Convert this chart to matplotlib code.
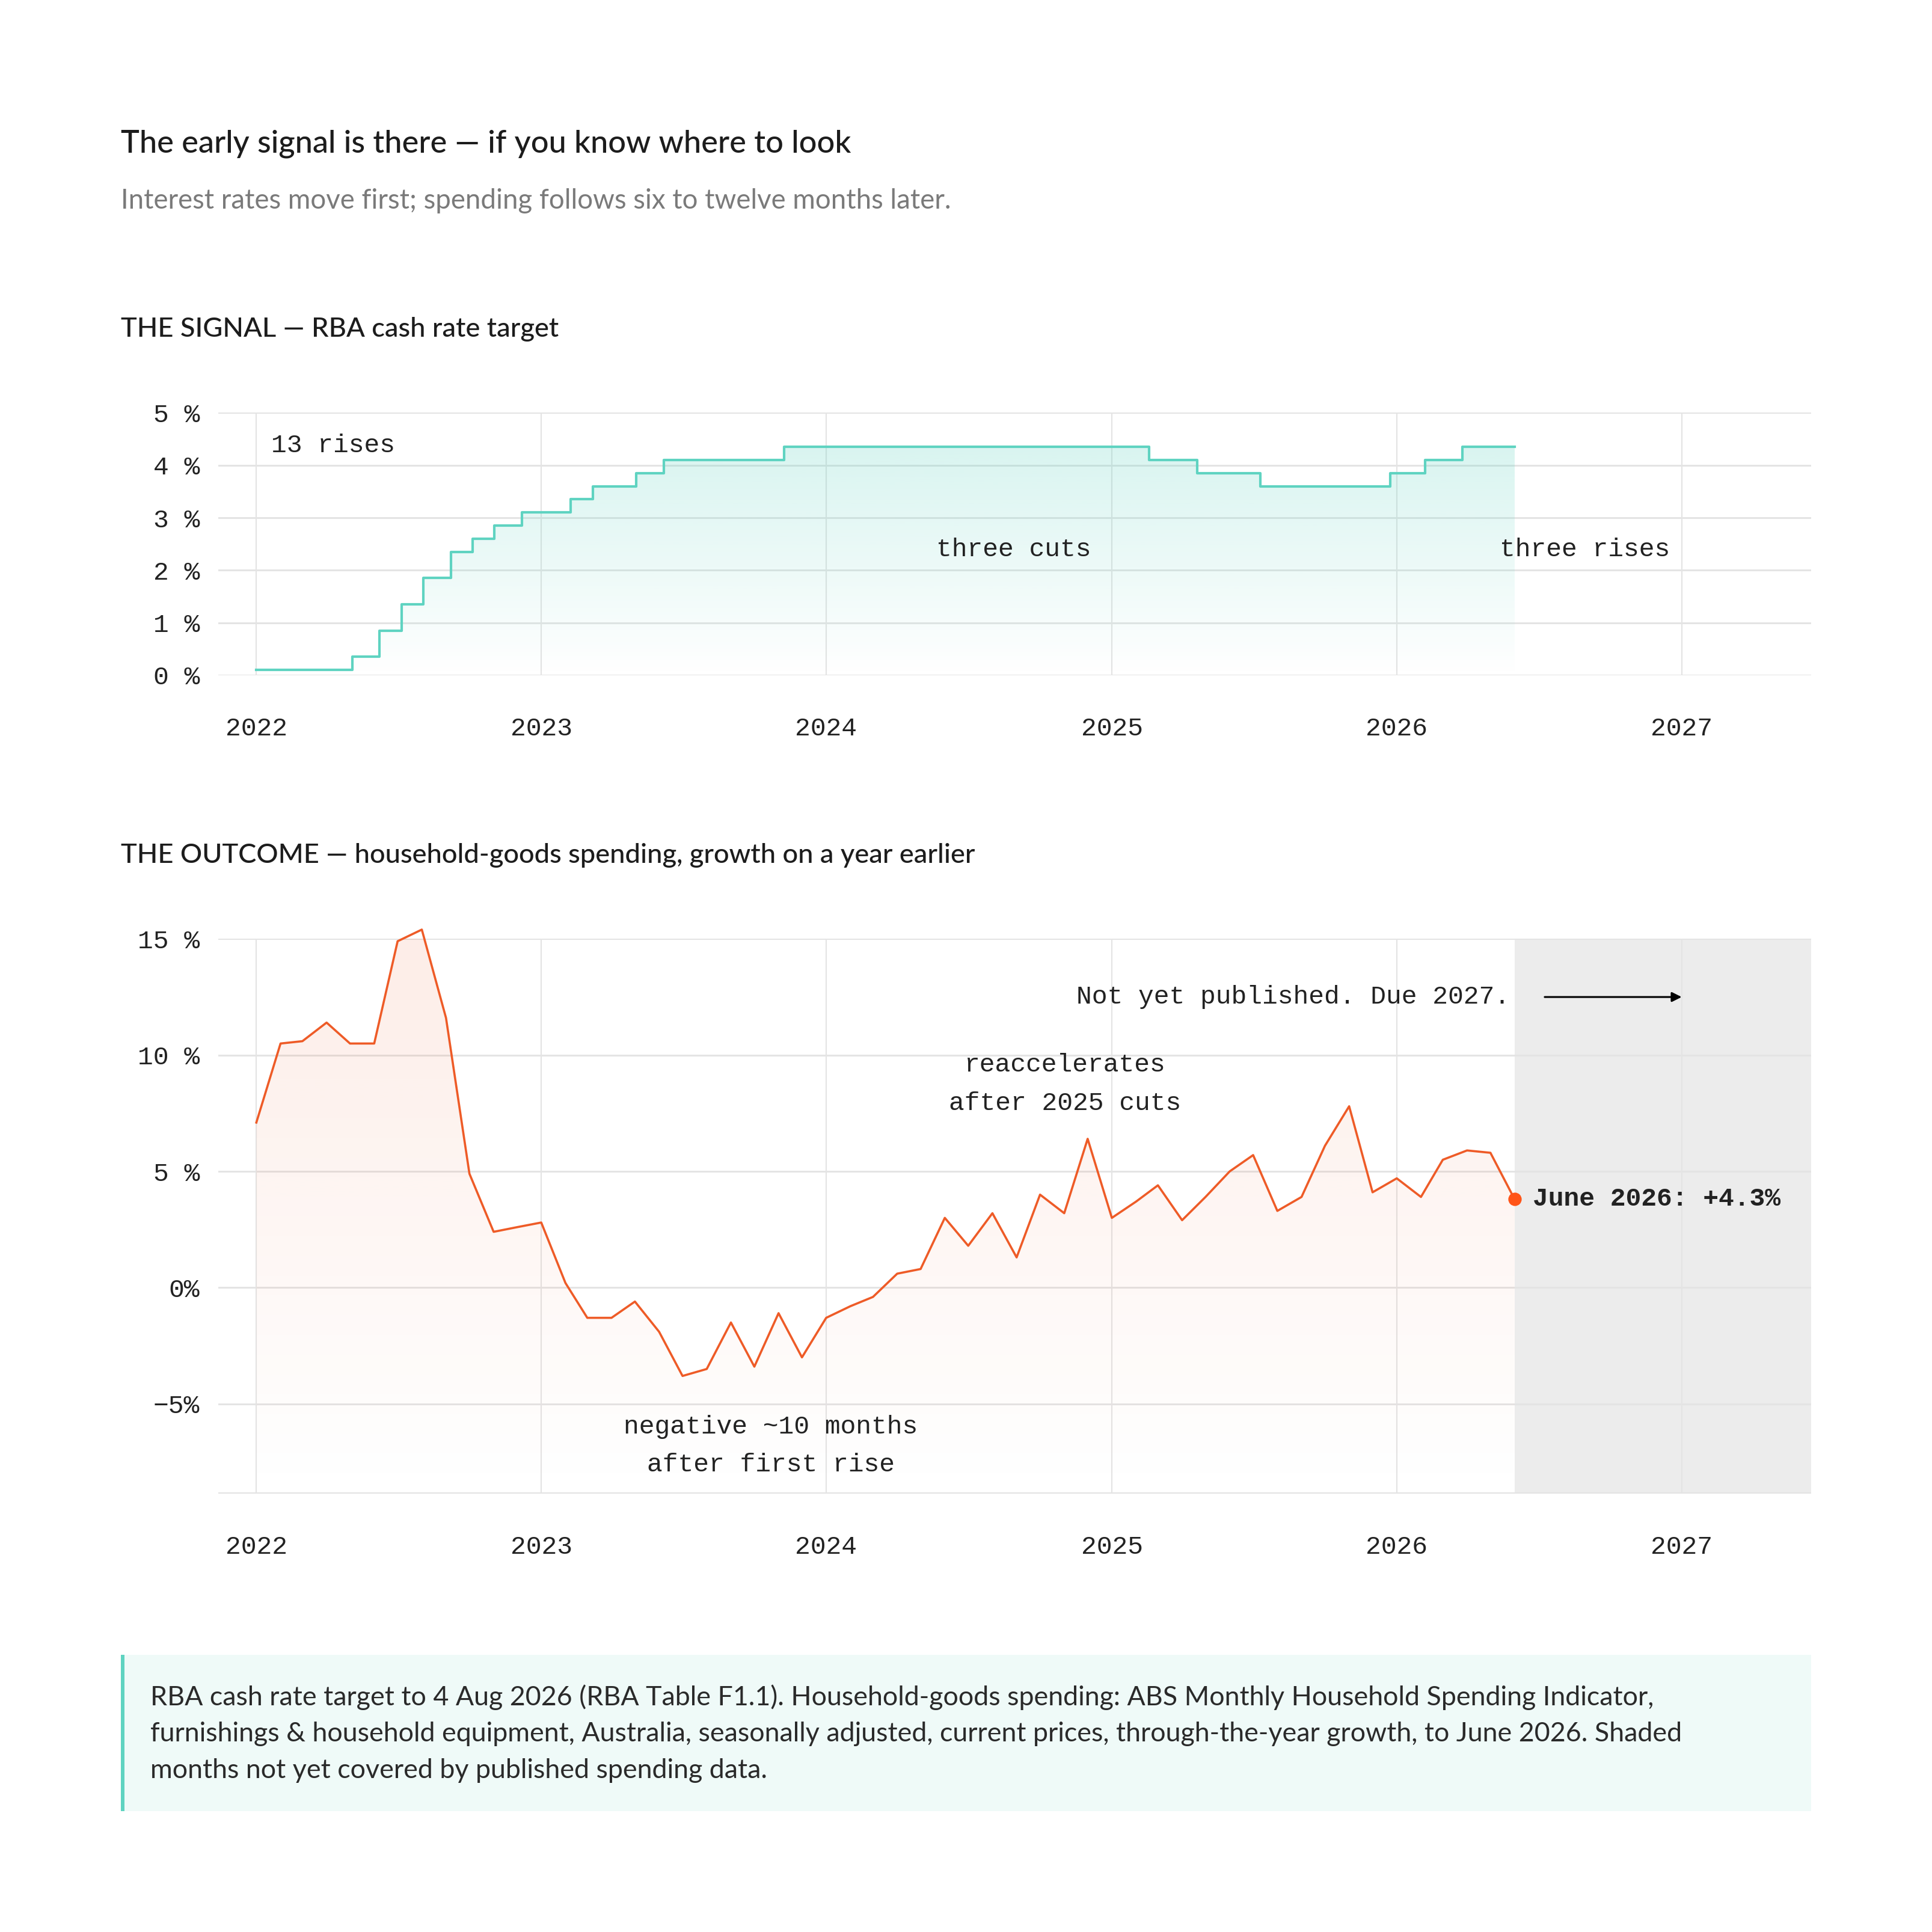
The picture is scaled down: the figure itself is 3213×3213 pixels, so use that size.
import numpy as np
import pandas as pd
import matplotlib
matplotlib.use("Agg")
import matplotlib.pyplot as plt
import matplotlib.dates as mdates
from matplotlib.colors import to_rgb
from matplotlib.patches import Rectangle

# RBA cash rate target (step changes, last entry = end of series)
rate_dates = pd.to_datetime([
    "2022-01-01", "2022-05-04", "2022-06-08", "2022-07-06", "2022-08-03", "2022-09-07",
    "2022-10-05", "2022-11-02", "2022-12-07", "2023-02-08", "2023-03-08", "2023-05-03",
    "2023-06-07", "2023-11-08", "2025-02-18", "2025-04-20", "2025-07-10",
    "2025-12-24", "2026-02-06", "2026-03-26", "2026-06-01"])
rate_values = [0.10, 0.35, 0.85, 1.35, 1.85, 2.35, 2.60, 2.85, 3.10, 3.35, 3.60, 3.85,
               4.10, 4.35, 4.10, 3.85, 3.60, 3.85, 4.10, 4.35, 4.35]

# household-goods spending, growth on a year earlier (%)
spend_months = pd.date_range("2022-01-01", "2026-06-01", freq="MS")
spend_growth = [
    7.1, 10.5, 10.6, 11.4, 10.5, 10.5, 14.9, 15.4, 11.6, 4.9, 2.4, 2.6,
    2.8, 0.2, -1.3, -1.3, -0.6, -1.9, -3.8, -3.5, -1.5, -3.4, -1.1, -3.0,
    -1.3, -0.8, -0.4, 0.6, 0.8, 3.0, 1.8, 3.2, 1.3, 4.0, 3.2, 6.4,
    3.0, 3.7, 4.4, 2.9, 3.9, 5.0, 5.7, 3.3, 3.9, 6.1, 7.8, 4.1,
    4.7, 3.9, 5.5, 5.9, 5.8, 3.8]

years = [2022, 2023, 2024, 2025, 2026, 2027]
top_ticks = [0, 1, 2, 3, 4, 5]
top_labels = ["0 %", "1 %", "2 %", "3 %", "4 %", "5 %"]
bot_ticks = [-5, 0, 5, 10, 15]
bot_labels = ["\u22125%", "0%", "5 %", "10 %", "15 %"]

SANS = ["Lato", "DejaVu Sans"]
MONO = ["Liberation Mono", "DejaVu Sans Mono"]
TEAL = "#5fd3c1"
ORANGE = "#ee5b27"
GRID = "#e4e4e4"
INK = "#222222"

plt.rcParams["font.family"] = SANS

W = 1568.0  # layout worked out on a 1568px canvas
def fx(x):
    return x / W
def fy(y):
    return 1 - y / W

fig = plt.figure(figsize=(16.065, 16.065), dpi=200, facecolor="white")

xmin = pd.Timestamp("2021-11-13")
xmax = pd.Timestamp("2027-06-16")


def style_axis(ax, ticks, labels, ylim):
    ax.set_xlim(xmin, xmax)
    ax.set_ylim(*ylim)
    ax.set_axisbelow(True)
    for s in ax.spines.values():
        s.set_visible(False)
    ax.set_yticks(ticks)
    ax.set_yticklabels(labels, family=MONO, fontsize=15.5, color=INK)
    ax.set_xticks([pd.Timestamp(f"{y}-01-01") for y in years])
    ax.set_xticklabels([str(y) for y in years], family=MONO, fontsize=15.5, color=INK)
    ax.tick_params(axis="both", length=0)
    ax.tick_params(axis="y", pad=11)
    ax.tick_params(axis="x", pad=25)
    ax.grid(axis="y", color=GRID, lw=1.1)
    ax.grid(axis="x", color=GRID, lw=0.8)


def gradient_fill(ax, x, y, base, color, a_top, a_bot, y0, y1, step=None):
    poly = ax.fill_between(x, y, base, step=step, color="none", lw=0)
    path = poly.get_paths()[0]
    img = np.zeros((256, 1, 4))
    img[:, 0, :3] = to_rgb(color)
    img[:, 0, 3] = np.linspace(a_top, a_bot, 256)
    xs = mdates.date2num(x)
    im = ax.imshow(img, aspect="auto", origin="upper",
                   extent=[xs[0], xs[-1], y0, y1], zorder=1, interpolation="bilinear")
    im.set_clip_path(path, transform=ax.transData)


# titles
fig.text(fx(98), fy(117), "The early signal is there \u2014 if you know where to look",
         fontsize=18.8, color="#1c1c1c", fontweight="medium", va="center")
fig.text(fx(98), fy(163), "Interest rates move first; spending follows six to twelve months later.",
         fontsize=16.45, color="#7a7a7a", va="center")
fig.text(fx(98), fy(267), "THE SIGNAL \u2014 RBA cash rate target",
         fontsize=16.3, color="#1c1c1c", fontweight="medium", va="center")
fig.text(fx(98), fy(694), "THE OUTCOME \u2014 household-goods spending, growth on a year earlier",
         fontsize=16.3, color="#1c1c1c", fontweight="medium", va="center")

# ---- top: cash rate ----
ax1 = fig.add_axes([fx(177), fy(548), (1470 - 177) / W, (548 - 335) / W])
gradient_fill(ax1, rate_dates, rate_values, 0, TEAL, 0.24, 0.0, 0, max(rate_values), step="post")
ax1.plot(rate_dates, rate_values, drawstyle="steps-post", color=TEAL, lw=1.5, zorder=3)
style_axis(ax1, top_ticks, top_labels, (0, 5))

ax1.text(pd.Timestamp("2022-01-20"), 4.37, "13 rises", family=MONO, fontsize=15.5,
         color=INK, va="center", ha="left")
ax1.text(pd.Timestamp("2024-08-28"), 2.39, "three cuts", family=MONO, fontsize=15.5,
         color=INK, va="center", ha="center")
ax1.text(pd.Timestamp("2026-08-30"), 2.39, "three rises", family=MONO, fontsize=15.5,
         color=INK, va="center", ha="center")

# ---- bottom: spending ----
ax2 = fig.add_axes([fx(177), fy(1212), (1470 - 177) / W, (1212 - 762) / W])
ylo, yhi = -8.85, 15
last = spend_months[-1]
ax2.axvspan(last, xmax, color="#ececec", lw=0, zorder=0.2)
gradient_fill(ax2, spend_months, spend_growth, ylo, ORANGE, 0.11, 0.0, ylo, yhi)
ax2.plot(spend_months, spend_growth, color=ORANGE, lw=1.3, zorder=3, clip_on=False)
ax2.plot([last], [spend_growth[-1]], "o", color="#ff5418", ms=7, zorder=4, clip_on=False)
style_axis(ax2, bot_ticks, bot_labels, (ylo, yhi))
ax2.axhline(ylo, color=GRID, lw=1.6, zorder=0.6)

ax2.annotate("June 2026: +4.3%", (last, spend_growth[-1]), xytext=(11, 0),
             textcoords="offset points", family=MONO, fontsize=15.5, fontweight="bold",
             color=INK, va="center", ha="left")
ax2.annotate("Not yet published. Due 2027.", (last, 12.5), xytext=(-3, 0),
             textcoords="offset points", family=MONO, fontsize=15.5,
             color=INK, va="center", ha="right")
ax2.annotate("", xy=(pd.Timestamp("2027-01-01"), 12.5), xytext=(last, 12.5),
             arrowprops=dict(arrowstyle="-|>", color="black", lw=1.1,
                             shrinkA=18, shrinkB=0, mutation_scale=12))
ax2.text(pd.Timestamp("2024-11-02"), 8.75, "reaccelerates\nafter 2025 cuts", family=MONO,
         fontsize=15.5, color=INK, va="center", ha="center", linespacing=1.75)
ax2.text(pd.Timestamp("2023-10-22"), -6.8, "negative ~10 months\nafter first rise", family=MONO,
         fontsize=15.5, color=INK, va="center", ha="center", linespacing=1.75)

# ---- footnote box ----
fig.patches.append(Rectangle((fx(98), fy(1470)), (1470 - 98) / W, (1470 - 1343) / W,
                             transform=fig.transFigure, facecolor="#effaf8", lw=0, zorder=0))
fig.patches.append(Rectangle((fx(98), fy(1470)), 3 / W, (1470 - 1343) / W,
                             transform=fig.transFigure, facecolor=TEAL, lw=0, zorder=1))
fig.text(fx(122), fy(1407),
         "RBA cash rate target to 4 Aug 2026 (RBA Table F1.1). Household-goods spending: ABS Monthly Household Spending Indicator,\n"
         "furnishings & household equipment, Australia, seasonally adjusted, current prices, through-the-year growth, to June 2026. Shaded\n"
         "months not yet covered by published spending data.",
         fontsize=16.1, color="#2a2a2a", va="center", ha="left", linespacing=1.6)

fig.savefig("out.png", dpi=200, facecolor="white")
